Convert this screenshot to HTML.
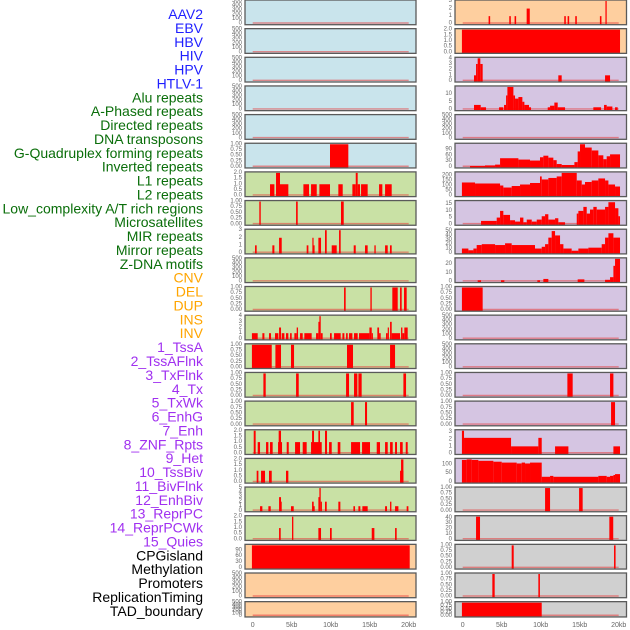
<!DOCTYPE html>
<html><head><meta charset="utf-8"><style>
html,body{margin:0;padding:0;background:#fff;width:630px;height:630px;overflow:hidden}
svg{display:block}
</style></head><body>
<svg id="chart" width="630" height="630" viewBox="0 0 630 630" xmlns="http://www.w3.org/2000/svg" font-family="'Liberation Sans', sans-serif"></svg>
<script>
const trackLabels = ["AAV2","EBV","HBV","HIV","HPV","HTLV-1","Alu repeats","A-Phased repeats","Directed repeats","DNA transposons","G-Quadruplex forming repeats","Inverted repeats","L1 repeats","L2 repeats","Low_complexity A/T rich regions","Microsatellites","MIR repeats","Mirror repeats","Z-DNA motifs","CNV","DEL","DUP","INS","INV","1_TssA","2_TssAFlnk","3_TxFlnk","4_Tx","5_TxWk","6_EnhG","7_Enh","8_ZNF_Rpts","9_Het","10_TssBiv","11_BivFlnk","12_EnhBiv","13_ReprPC","14_ReprPCWk","15_Quies","CPGisland","Methylation","Promoters","ReplicationTiming","TAD_boundary"];
const labelGroups = [6,13,5,15,5];
const groupColors = ["#1f1fff","#0a6e0a","#ffa500","#a030f0","#000000"];
const xTicks = [0,5,10,15,20];
const xTickLabels = ["0","5kb","10kb","15kb","20kb"];
const leftBg = ["b","b","b","b","b","b","g","g","g","g","g","g","g","g","g","g","g","g","g","o","o","o"];
const rightBg = ["o","o","p","p","p","p","p","p","p","p","p","p","p","p","p","p","p","g2","g2","g2","g2","g2"];
const leftMax = [500,500,500,500,500,1,2,1,3,500,1,4,1,1,1,2,2,5,2,115,500,500];
const rightMax = [3,2,4,14.4,500,117,225,17,52,26,1,500,500,1,1,3.2,128,1,42,1,1,1];
const leftTicks = ["T500","T500","T500","T500","T500","T1","T2","T1","0,1,2,3","T500","T1","0,1,2,3,4","T1","T1","T1","T2","T2","0,1,2,3,4,5","T2","0,30,60,90","T500","T500"];
const rightTicks = ["0,1,2,3","T2","0,1,2,3,4","0,5,10","T500","0,30,60,90","0,50,100,150,200","0,5,10,15","0,10,20,30,40,50","0,10,20","T1","T500","T500","T1","T1","0,1,2,3","0,50,100","T1","0,10,20,30,40","T1","T1","T1"];
// segments: [startKb, endKb, value]
const leftData = [
 [],[],[],[],[],
 [[9.91,12.26,1]],
 [[2.22,2.78,1],[2.99,3.5,2],[3.5,4.57,1],[6.5,7.22,1],[7.48,8.21,1],[8.55,9.91,1],[10.98,11.54,1],[12.78,13.21,1],[13.21,13.46,2],[13.46,13.76,1],[13.89,14.74,1],[16.2,16.62,1],[16.97,17.82,1]],
 [[0.85,1.03,1],[5.56,5.77,1],[11.32,11.67,1]],
 [[0.3,0.51,1],[2.52,2.78,1],[3.38,3.72,2],[6.92,7.14,1],[7.65,7.78,2],[7.78,7.9,1],[8.42,8.76,2],[9.27,9.49,3],[10.13,10.77,1],[11.07,11.28,3],[12.95,13.21,1],[14.4,14.74,1],[15.6,15.77,1],[16.97,17.31,1],[17.6,17.82,1]],
 [],
 [[11.71,11.92,1],[15.09,15.26,1],[17.9,18.59,1],[18.89,19.1,1],[19.4,19.74,1]],
 [[-0.1,0.64,1],[1.24,1.5,1],[2.09,2.35,1],[2.86,3.29,1],[3.38,3.63,2],[3.72,4.06,1],[4.27,4.57,1],[4.79,5.0,1],[5.34,5.64,1],[5.64,5.81,2],[6.07,6.41,1],[6.62,7.56,1],[8.12,8.42,1],[8.42,8.55,3],[8.55,8.72,4],[8.72,8.97,1],[9.91,10.13,1],[10.43,11.28,1],[11.5,11.75,1],[11.97,12.18,1],[12.35,12.78,1],[12.99,13.46,1],[13.63,14.96,1],[14.96,15.26,2],[15.26,15.38,1],[15.98,16.2,2],[16.2,16.41,1],[17.09,17.31,1],[17.31,17.44,2],[17.61,17.82,3],[17.82,18.89,1],[19.02,19.19,2],[19.19,19.44,1],[19.44,19.87,2]],
 [[-0.1,2.44,1],[2.91,3.63,1],[4.91,5.3,1],[12.09,12.86,1],[17.61,18.25,1]],
 [[1.37,1.67,1],[5.56,5.9,1],[11.97,12.35,1],[12.99,13.42,1],[13.55,13.97,1],[19.32,19.66,1]],
 [[12.61,12.95,1],[14.4,14.66,1]],
 [[0.13,0.38,2],[0.64,0.94,1],[1.71,2.01,1],[2.22,2.56,1],[3.25,3.76,1],[3.33,3.63,2],[4.36,4.62,1],[5.43,6.07,1],[6.41,6.92,1],[7.48,8.85,1],[7.61,7.86,2],[8.42,8.63,2],[9.27,9.53,2],[9.79,10.13,1],[10.9,11.24,1],[12.61,13.76,1],[14.02,15.04,1],[15.9,16.32,1],[16.97,17.31,1],[17.61,17.95,1],[18.25,18.5,1],[18.89,19.23,1],[19.62,19.87,1]],
 [[0.51,0.73,1],[1.07,1.58,1],[2.09,2.44,1],[4.27,4.57,1],[18.89,19.32,1],[19.02,19.32,2]],
 [[0.94,1.24,1],[2.01,2.31,1],[3.38,3.63,3],[3.5,3.72,2],[4.91,5.26,1],[7.61,7.82,2],[7.78,7.95,1],[8.42,8.55,3],[8.55,8.72,5],[8.72,8.85,2],[9.27,9.49,2],[10.98,11.24,2],[12.91,13.12,1],[13.55,13.8,1],[14.06,14.74,1],[16.97,17.22,1],[17.61,17.78,2],[18.25,18.68,1],[19.74,19.96,1]],
 [[3.38,3.59,1],[5.04,5.21,2],[8.42,8.76,1],[9.91,10.13,1],[15.26,15.6,1],[18.25,18.46,1]],
 [[-0.1,20.13,115]],
 [],[]
];
const rightData = [
 [[3.32,3.52,1],[5.97,6.17,1],[6.65,6.85,1],[8.2,8.6,2],[13.02,13.22,1],[13.45,13.65,1],[14.43,14.63,1],[17.59,17.79,1],[18.3,18.46,3]],
 [[-0.1,20.17,2]],
 [[1.45,1.71,1],[1.71,1.92,3],[1.92,2.26,4],[2.26,2.56,3],[12.26,12.69,1],[18.25,18.89,1]],
 [[1.45,2.31,3],[2.31,2.99,1.5],[4.66,5.21,1.5],[5.3,5.56,3],[5.56,5.73,9],[5.73,6.5,14.4],[6.5,6.71,9],[6.71,7.14,7],[7.14,7.65,8],[7.65,7.91,5],[7.91,8.5,3],[8.5,8.76,1.5],[10.9,11.2,1.5],[11.2,11.75,2.5],[11.75,12.18,4.5],[12.18,13.12,1.5],[16.75,17.74,1.5],[18.12,18.46,3],[18.46,19.19,2],[19.53,19.87,1.5]],
 [],
 [[0.94,2.86,5],[2.86,4.15,8],[4.15,4.79,12],[4.79,7.14,45],[7.14,8.63,38],[8.63,9.91,33],[9.91,10.34,50],[10.34,10.98,58],[10.98,11.62,48],[11.62,12.05,35],[12.05,12.69,15],[12.69,14.32,10],[14.32,14.74,25],[14.74,15.04,80],[15.04,15.68,117],[15.68,16.54,100],[16.54,17.39,85],[17.39,18.03,60],[18.03,18.46,40],[18.46,18.89,55],[18.89,20.17,65]],
 [[-0.1,1.58,130],[1.58,4.79,120],[4.79,5.21,100],[5.21,6.28,80],[6.28,7.35,95],[7.35,8.63,110],[8.63,9.91,125],[9.91,10.13,190],[10.13,10.98,160],[10.98,12.05,175],[12.05,12.69,190],[12.69,14.62,225],[14.62,15.26,150],[15.26,15.68,110],[15.68,16.54,135],[16.54,17.39,150],[17.39,18.25,170],[18.25,18.68,150],[18.68,19.53,110],[19.53,20.17,90]],
 [[2.35,4.36,2.5],[4.36,4.79,5],[4.79,5.21,10],[5.21,6.07,7],[6.07,6.71,3],[6.71,7.35,2],[7.35,7.78,5],[7.78,8.21,1.5],[8.21,8.85,3.5],[8.85,9.49,2],[9.49,10.13,3.5],[10.13,10.56,6],[10.56,10.98,7.5],[10.98,11.84,3.5],[11.84,12.26,4.5],[12.26,13.12,1.5],[14.62,14.83,8],[14.83,15.47,10],[15.47,15.9,13],[15.9,16.32,8],[16.32,16.75,11],[16.75,17.18,13],[17.18,18.25,11],[18.25,18.68,13],[18.68,19.53,16.5],[19.53,19.96,12],[19.96,20.17,6]],
 [[-0.1,0.73,10],[0.73,1.37,6],[1.37,1.79,10],[1.79,2.44,18],[2.44,4.15,20],[4.15,5.43,18],[5.43,6.28,22],[6.28,9.27,18],[9.27,10.13,10],[10.13,10.56,14],[10.56,10.98,20],[10.98,11.41,35],[11.41,11.84,50],[11.84,12.48,40],[12.48,12.91,20],[12.91,13.97,10],[13.97,14.83,5],[14.83,16.11,10],[16.11,17.82,12],[17.82,18.25,20],[18.25,18.68,35],[18.68,19.32,45],[19.32,20.17,35]],
 [[1.92,2.35,1.5],[4.91,5.34,1.5],[9.57,9.91,1.5],[10.34,10.98,3],[14.74,15.6,2.5],[18.25,18.89,2],[18.89,19.32,5],[19.32,19.53,18],[19.53,20.17,26]],
 [[-0.1,2.56,1]],
 [],[],
 [[13.42,14.1,1],[18.89,19.32,1]],
 [[19.02,19.53,1]],
 [[-0.1,0.17,3.2],[0.17,6.2,2.2],[6.2,9.7,1],[9.7,10.13,2.2],[11.84,13.55,1],[19.32,20.17,1]],
 [[-0.1,0.51,125],[0.51,1.15,128],[1.15,2.01,125],[2.01,3.93,120],[3.93,5.0,115],[5.0,6.92,110],[6.92,7.56,105],[7.56,7.99,110],[7.99,8.63,105],[8.63,10.13,110],[10.13,11.2,30],[11.2,11.62,35],[11.62,17.39,30],[17.39,18.46,35],[18.46,18.89,30],[18.89,19.32,35],[19.32,19.53,40],[19.53,20.17,45]],
 [[10.56,11.2,1],[14.92,15.38,1]],
 [[1.71,2.22,42],[18.8,19.3,42]],
 [[6.28,6.54,1],[19.4,19.6,1]],
 [[3.8,4.1,1],[9.7,9.9,1]],
 [[-0.1,10.13,1]]
];

const NS="http://www.w3.org/2000/svg";
const svg=document.getElementById('chart');
const bgColors={b:"#c9e4ec",g:"#c9e1a5",o:"#fecf9f",p:"#d5c5e2",g2:"#d0d0d0"};
function mk(tag,attrs,parent){const e=document.createElementNS(NS,tag);for(const k in attrs)e.setAttribute(k,attrs[k]);(parent||svg).appendChild(e);return e;}
function tickList(spec){
  if(spec==="T500")return [0,100,200,300,400,500].map(v=>[v,String(v)]);
  if(spec==="T1")return [0,.25,.5,.75,1].map(v=>[v,v.toFixed(2)]);
  if(spec==="T2")return [0,.5,1,1.5,2].map(v=>[v,v.toFixed(1)]);
  return spec.split(",").map(s=>[+s,s]);
}
// labels
let li=0;
labelGroups.forEach((n,g)=>{for(let k=0;k<n;k++){
  const t=mk('text',{x:203,y:14+li*13.88,'text-anchor':'end','dominant-baseline':'central','font-size':'14',fill:groupColors[g]});
  t.textContent=trackLabels[li];
  
  
  li++;}});
const cols=[{x0:245,x1:416,z0:252.7,z20:408.7,bg:leftBg,max:leftMax,ticks:leftTicks,data:leftData,side:'left'},
            {x0:455,x1:626.5,z0:462.7,z20:618.7,bg:rightBg,max:rightMax,ticks:rightTicks,data:rightData,side:'right'}];
cols.forEach(c=>{
  const xs=kb=>c.z0+(kb/20)*(c.z20-c.z0);
  for(let r=0;r<22;r++){
    const top=r*28.65, h=(r===21?15.3:24.7), bot=top+h-1;
    const g=mk('g',{});
    
    
    mk('rect',{x:c.x0,y:top,width:c.x1-c.x0,height:h,fill:bgColors[c.bg[r]]},g);
    const ys=v=>bot-Math.min(v,c.max[r])/c.max[r]*(h-2);
    mk('line',{x1:xs(0),x2:xs(20),y1:bot-0.7,y2:bot-0.7,stroke:'rgba(230,60,60,0.55)','stroke-width':1.4},g);
    c.data[r].forEach((s,i)=>{
      const b=mk('rect',{x:xs(s[0]),y:ys(s[2]),width:Math.max(1.2,xs(s[1])-xs(s[0])),height:bot+1-ys(s[2]),fill:'#ff0000'},g);
      
      
    });
    mk('rect',{x:c.x0,y:top,width:c.x1-c.x0,height:h,fill:'none',stroke:'#5a5a5a','stroke-width':1.3},g);
    tickList(c.ticks[r]).forEach(([v,lab])=>{
      const t=mk('text',{x:c.x0-3,y:ys(v),'text-anchor':'end','dominant-baseline':'central','font-size':'6',fill:'#666'},g);
      t.textContent=lab;
      
      
    });
  }
  xTicks.forEach((v,i)=>{
    const t=mk('text',{x:xs(v),y:627,'text-anchor':'middle','font-size':'7',fill:'#666'});
    t.textContent=xTickLabels[i];
    
    
  });
});
</script>
</body></html>
